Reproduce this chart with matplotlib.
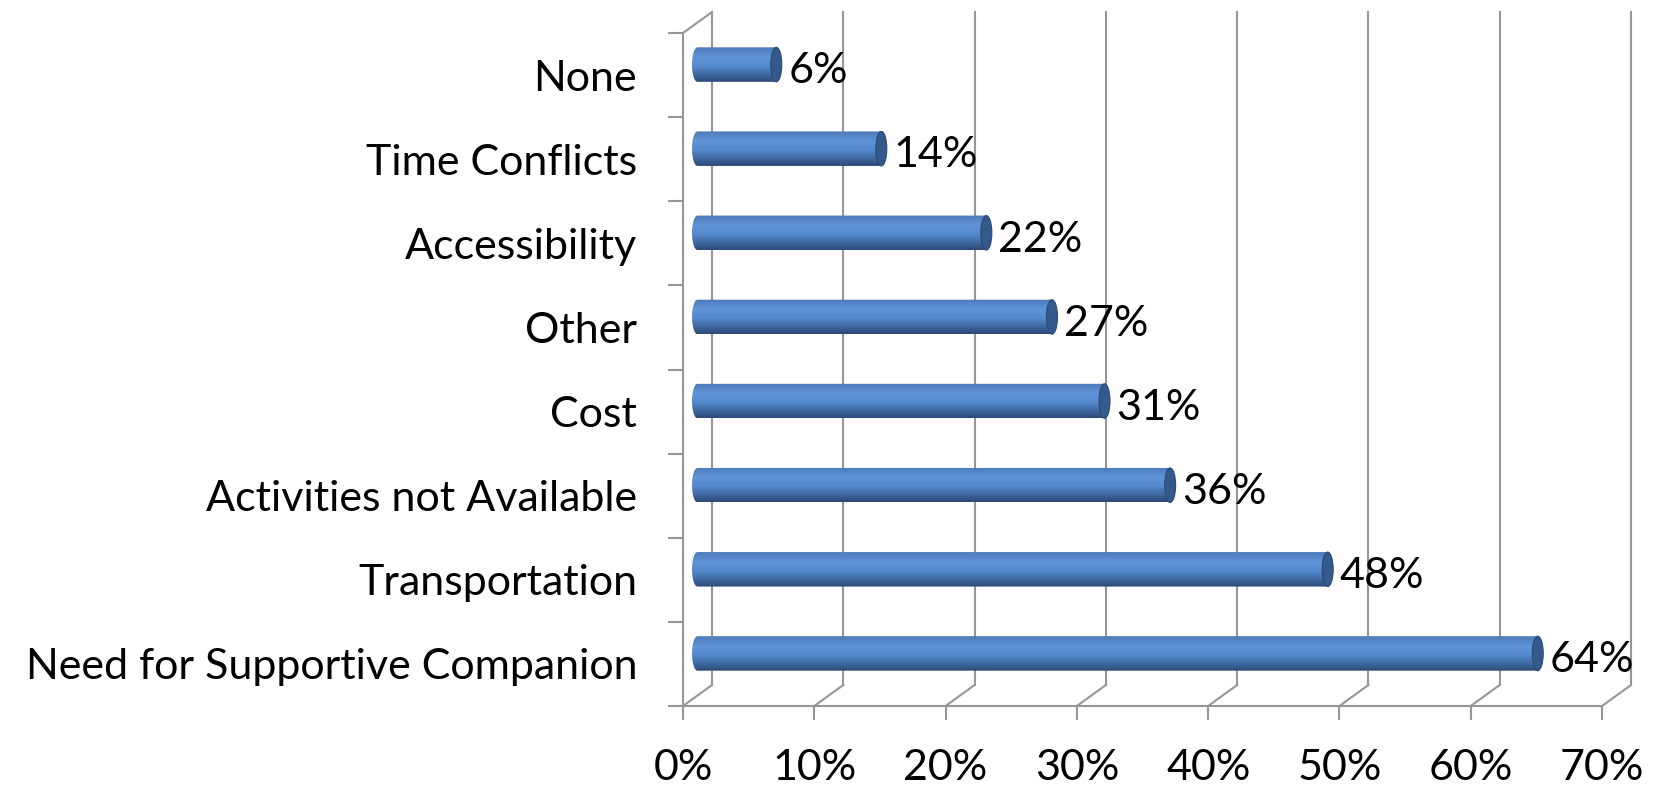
import numpy as np
import matplotlib
matplotlib.use("Agg")
import matplotlib.pyplot as plt
from matplotlib.patches import Polygon, Ellipse

plt.rcParams['font.family'] = ['Lato', 'DejaVu Sans']

# bottom to top, as the chart draws them
categories = ["Need for Supportive Companion", "Transportation", "Activities not Available",
              "Cost", "Other", "Accessibility", "Time Conflicts", "None"]
values = [64, 48, 36, 31, 27, 22, 14, 6]
xticks = [0, 10, 20, 30, 40, 50, 60, 70]

W, H, DPI = 1656, 788, 100
GRID = '#969696'
FS = 31

fig = plt.figure(figsize=(W / DPI, H / DPI), dpi=DPI)
left, bottom, right, top = 683, 706, 1602, 33
ax = fig.add_axes([left / W, 1 - bottom / H, (right - left) / W, (bottom - top) / H])
ax.set_xlim(0, 70)
ax.set_ylim(-0.5, 7.5)

# depth of the 3d box, pixels -> data units
px_x = (right - left) / 70
px_y = (bottom - top) / 8
DX = 29 / px_x
DY = 21 / px_y

for s in ['top', 'right']:
    ax.spines[s].set_visible(False)
for s in ['left', 'bottom']:
    ax.spines[s].set_color(GRID)
    ax.spines[s].set_linewidth(1.5)

# back wall gridlines and floor diagonals
for x in xticks:
    ax.plot([x + DX, x + DX], [-0.5 + DY, 7.5 + DY], color=GRID, lw=1.5, clip_on=False, zorder=1)
    ax.plot([x, x + DX], [-0.5, -0.5 + DY], color=GRID, lw=1.5, clip_on=False, zorder=1)
ax.plot([0, DX], [7.5, 7.5 + DY], color=GRID, lw=1.5, clip_on=False, zorder=1)

# ticks and labels
ax.set_xticks(xticks, labels=[f"{t}%" for t in xticks])
ax.set_yticks(np.arange(-0.5, 8, 1))
ax.set_yticklabels([])
ax.set_yticks(np.arange(len(categories)), labels=categories, minor=True)
ax.tick_params(axis='x', length=10, width=1.5, color=GRID, pad=21, labelsize=FS)
ax.tick_params(axis='y', which='major', length=11, width=1.5, color=GRID)
ax.tick_params(axis='y', which='minor', length=0, pad=33, labelsize=FS)

# cylinder shading, top to bottom
stops = [0.0, 0.3, 0.55, 0.8, 1.0]
cols = np.array([[0.30, 0.48, 0.72],
                 [0.37, 0.58, 0.85],
                 [0.33, 0.54, 0.80],
                 [0.24, 0.40, 0.62],
                 [0.17, 0.29, 0.46]])
t = np.linspace(0, 1, 64)
grad = np.stack([np.interp(t, stops, cols[:, k]) for k in range(3)], axis=1)[:, None, :]

h = 0.41
ew = 11 / px_x
x0 = DX / 2
ang = np.linspace(np.pi / 2, 3 * np.pi / 2, 60)
for i, v in enumerate(values):
    yc = i + DY / 2
    x1 = v + DX / 2
    pts = np.column_stack([x0 + ew / 2 * np.cos(ang), yc + h / 2 * np.sin(ang)])
    pts = np.vstack([pts, [[x1, yc - h / 2], [x1, yc + h / 2]]])
    body = Polygon(pts, closed=True, facecolor='none', edgecolor='none', transform=ax.transData)
    ax.add_patch(body)
    im = ax.imshow(grad, extent=[x0 - ew / 2, x1, yc - h / 2, yc + h / 2], aspect='auto',
                   interpolation='bilinear', zorder=3)
    im.set_clip_path(body)
    ax.add_patch(Ellipse((x1, yc), ew, h, facecolor='#34598b', edgecolor='#2a4a75', lw=0.8, zorder=4))
    ax.text(x1 + ew / 2 + 0.5, yc - 0.08, f"{v}%", ha='left', va='center', fontsize=FS, zorder=5)

ax.set_xlim(0, 70)
ax.set_ylim(-0.5, 7.5)
fig.savefig("out.png", dpi=DPI)
